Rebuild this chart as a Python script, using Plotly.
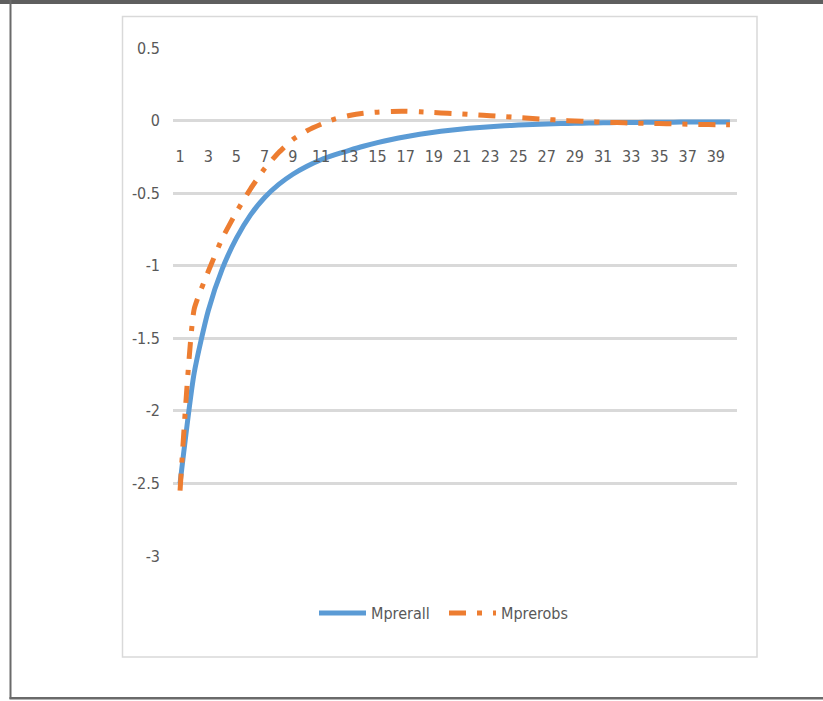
import plotly.graph_objects as go

periods = list(range(1, 41))

mprerall = [-2.50, -1.74, -1.31, -1.02, -0.81, -0.65, -0.53, -0.44, -0.37, -0.315,
            -0.27, -0.235, -0.205, -0.177, -0.152, -0.13, -0.111, -0.094, -0.080, -0.068,
            -0.058, -0.049, -0.042, -0.036, -0.031, -0.027, -0.024, -0.021, -0.019, -0.017,
            -0.015, -0.014, -0.013, -0.012, -0.011, -0.011, -0.010, -0.010, -0.009, -0.009]

mprerobs = [-2.55, -1.30, -1.04, -0.81, -0.63, -0.47, -0.33, -0.22, -0.13, -0.07,
            -0.025, 0.012, 0.035, 0.050, 0.058, 0.063, 0.064, 0.060, 0.055, 0.050,
            0.045, 0.039, 0.033, 0.027, 0.021, 0.015, 0.008, 0.002, -0.003, -0.007,
            -0.011, -0.014, -0.017, -0.019, -0.021, -0.023, -0.025, -0.027, -0.028, -0.029]

x_tickvals = list(range(1, 40, 2))
x_ticktext = [str(v) for v in x_tickvals]
y_tickvals = [0.5, 0, -0.5, -1, -1.5, -2, -2.5, -3]
y_ticktext = ["0.5", "0", "-0.5", "-1", "-1.5", "-2", "-2.5", "-3"]

FONT = "Liberation Sans Narrow, DejaVu Sans Condensed, Arial Narrow, sans-serif"
TXT = "#595959"

W, H = 823, 701
L, R, T, B = 173, 737, 48, 556


def px(x):
    return (x - L) / (R - L)


def py(y):
    return (B - y) / (B - T)


fig = go.Figure()
fig.add_trace(go.Scatter(
    x=periods, y=mprerall, name="Mprerall", mode="lines",
    line=dict(color="#5B9BD5", width=5, shape="spline", smoothing=0.6),
))
fig.add_trace(go.Scatter(
    x=periods, y=mprerobs, name="Mprerobs", mode="lines",
    line=dict(color="#ED7D31", width=5, shape="spline", smoothing=0.45,
              dash="17px,11px,5px,11px"),
))

shapes = [
    # outer page frame
    dict(type="rect", xref="paper", yref="paper", x0=px(0), x1=px(W), y0=py(0), y1=py(4),
         fillcolor="#5f5f5f", line=dict(width=0), layer="above"),
    dict(type="rect", xref="paper", yref="paper", x0=px(9.5), x1=px(11.5), y0=py(0), y1=py(699),
         fillcolor="#6a6a6a", line=dict(width=0), layer="above"),
    dict(type="rect", xref="paper", yref="paper", x0=px(9.5), x1=px(W), y0=py(697), y1=py(699.5),
         fillcolor="#6a6a6a", line=dict(width=0), layer="above"),
    # chart area border
    dict(type="rect", xref="paper", yref="paper", x0=px(122.5), x1=px(757), y0=py(16.5), y1=py(657),
         fillcolor="rgba(0,0,0,0)", line=dict(color="#d9d9d9", width=1.5), layer="below"),
]

fig.update_layout(
    width=W, height=H,
    margin=dict(l=L, r=W - R, t=T, b=H - B, pad=0),
    paper_bgcolor="white", plot_bgcolor="white",
    font=dict(family=FONT, color=TXT, size=16),
    showlegend=True,
    legend=dict(orientation="h", x=px(444), xanchor="center", y=py(613), yanchor="middle",
                font=dict(family=FONT, size=16, color=TXT), itemwidth=47, entrywidth=68,
                bgcolor="rgba(0,0,0,0)", tracegroupgap=0),
    shapes=shapes,
    xaxis=dict(range=[0.5, 40.5], tickmode="array", tickvals=x_tickvals, ticktext=x_ticktext,
               showgrid=False, zeroline=False, showline=False, ticks="",
               anchor="free", position=3 / 3.5, ticklabelstandoff=24,
               tickfont=dict(family=FONT, size=16, color=TXT), fixedrange=True),
    yaxis=dict(range=[-3, 0.5], tickmode="array", tickvals=y_tickvals, ticktext=y_ticktext,
               showgrid=True, gridcolor="#d9d9d9", gridwidth=2.5, zeroline=False,
               showline=False, ticks="", ticklabelstandoff=12,
               tickfont=dict(family=FONT, size=16, color=TXT), fixedrange=True),
)

fig.write_html("out.html")
